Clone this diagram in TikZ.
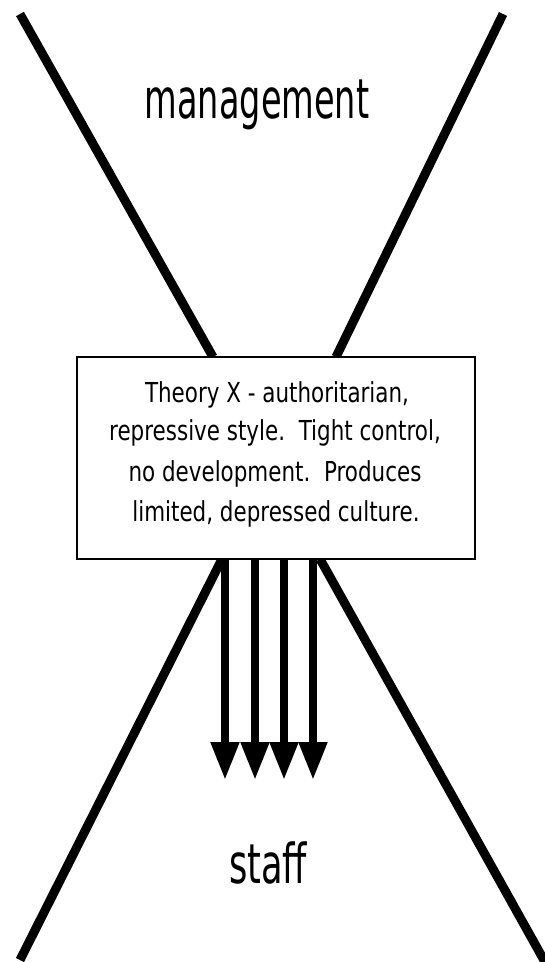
\documentclass[tikz,border=0pt]{standalone}
\usepackage{graphicx}
\usepackage{fontspec}
\setmainfont{DejaVu Sans}
\usetikzlibrary{arrows.meta}
\newcommand\narrowtxt[2]{\scalebox{#1}[1]{#2}}
\begin{document}
\begin{tikzpicture}[x=1pt,y=-1pt,
  xline/.style={line width=9pt},
  arr/.style={line width=8pt,-{Triangle[width=27pt,length=38pt]}},
  bigtxt/.style={anchor=base,inner sep=0pt,font=\fontsize{55}{60}\selectfont},
  boxtxt/.style={anchor=base,inner sep=0pt,font=\fontsize{27.5}{33}\selectfont},
  mainbox/.style={draw,line width=2.5pt,fill=white,inner sep=0pt,minimum width=398pt,minimum height=202pt}]
\useasboundingbox (0,0) rectangle (545,962);
% X line end points
\coordinate (tl) at (20,14);
\coordinate (tr) at (503,14);
\coordinate (tlb) at (213,357);
\coordinate (trb) at (336,357);
\coordinate (blb) at (222,559);
\coordinate (brb) at (320,559);
\coordinate (bl) at (20,960);
\coordinate (br) at (545,962);
\draw[xline] (tl) -- (tlb);
\draw[xline] (tr) -- (trb);
\draw[xline] (blb) -- (bl);
\draw[xline] (brb) -- (br);
% central box
\node[mainbox] (box) at (276,458) {};
\node[boxtxt] (l1) at (277,402) {\narrowtxt{0.78}{Theory X - authoritarian,}};
\node[boxtxt] (l2) at (275,440) {\narrowtxt{0.78}{repressive style.~~Tight control,}};
\node[boxtxt] (l3) at (275,481) {\narrowtxt{0.78}{no development.~~Produces}};
\node[boxtxt] (l4) at (276,521) {\narrowtxt{0.78}{limited, depressed culture.}};
% labels
\node[bigtxt] (mg) at (257,118) {\narrowtxt{0.61}{management}};
\node[bigtxt] (st) at (268,883) {\narrowtxt{0.64}{staff}};
% arrows
\coordinate (a1) at (225,780);
\coordinate (a2) at (255,780);
\coordinate (a3) at (284,780);
\coordinate (a4) at (313,780);
\foreach \a in {a1,a2,a3,a4}
  \draw[arr] (box.south -| \a) -- (\a);
\end{tikzpicture}
\end{document}
